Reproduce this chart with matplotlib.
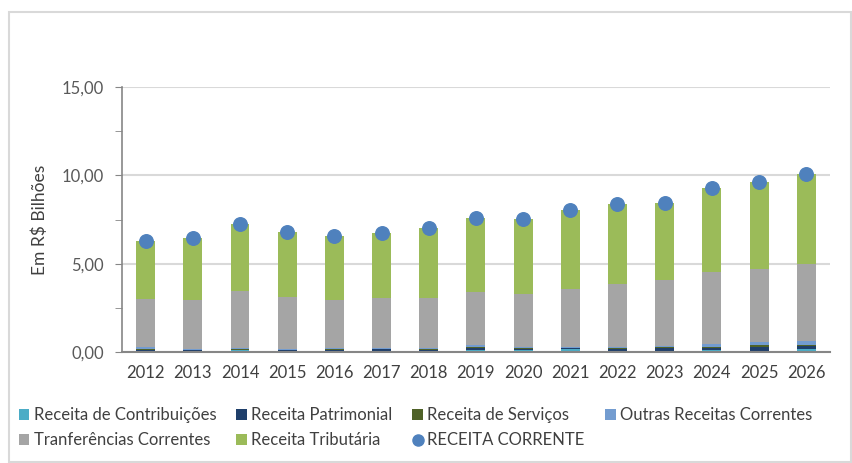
import matplotlib
import matplotlib.pyplot as plt
import numpy as np
from matplotlib.lines import Line2D
from matplotlib.patches import Rectangle

matplotlib.rcParams["font.family"] = ["Lato", "DejaVu Sans"]

anos = ["2012", "2013", "2014", "2015", "2016", "2017", "2018", "2019",
        "2020", "2021", "2022", "2023", "2024", "2025", "2026"]

# valores em R$ bilhões
contribuicoes = [0.05, 0.05, 0.10, 0.04, 0.03, 0.02, 0.03, 0.10,
                 0.12, 0.15, 0.04, 0.03, 0.10, 0.05, 0.15]
patrimonial = [0.05, 0.05, 0.02, 0.06, 0.10, 0.14, 0.10, 0.10,
               0.04, 0.06, 0.14, 0.20, 0.14, 0.25, 0.20]
servicos = [0.08, 0.02, 0.06, 0.02, 0.02, 0.02, 0.02, 0.08,
            0.06, 0.02, 0.03, 0.05, 0.06, 0.10, 0.05]
outras = [0.12, 0.07, 0.05, 0.07, 0.08, 0.05, 0.07, 0.10,
          0.05, 0.08, 0.08, 0.04, 0.15, 0.18, 0.20]
transferencias = [2.70, 2.77, 3.22, 2.94, 2.73, 2.84, 2.85, 2.99,
                  3.04, 3.26, 3.56, 3.74, 4.10, 4.12, 4.38]
tributaria = [3.27, 3.47, 3.80, 3.69, 3.63, 3.64, 3.95, 4.20,
              4.22, 4.44, 4.50, 4.38, 4.75, 4.92, 5.08]
receita_corrente = [6.27, 6.43, 7.25, 6.82, 6.59, 6.71, 7.02, 7.57,
                    7.53, 8.01, 8.35, 8.44, 9.30, 9.62, 10.06]

series = [
    ("Receita de Contribuições", contribuicoes, "#4bacc6"),
    ("Receita Patrimonial", patrimonial, "#1f3f6b"),
    ("Receita de Serviços", servicos, "#4f6228"),
    ("Outras Receitas Correntes", outras, "#739cd0"),
    ("Tranferências Correntes", transferencias, "#a5a5a5"),
    ("Receita Tributária", tributaria, "#9bbb59"),
]

fig = plt.figure(figsize=(8.52, 4.63), dpi=100)
ax = fig.add_axes([0.1432, 0.2397, 0.8308, 0.5724])

# moldura do grafico
fig.patches.append(Rectangle((9 / 852, 0.002), 842 / 852, 1 - 12 / 463 - 0.002,
                             transform=fig.transFigure, fill=False,
                             edgecolor="#d9d9d9", linewidth=1.5))

x = np.arange(len(anos))
base = np.zeros(len(anos))
handles = {}
for nome, vals, cor in series:
    b = ax.bar(x, vals, width=0.4, bottom=base, color=cor, label=nome, zorder=2)
    handles[nome] = b
    base += np.array(vals)

ax.scatter(x, receita_corrente, s=95, color="#4f81bd", zorder=3)
handles["RECEITA CORRENTE"] = Line2D([], [], marker="o", linestyle="none",
                                     color="#4f81bd", markersize=8)

ax.set_xlim(-0.5, len(anos) - 0.5)
ax.set_ylim(0, 15)
ax.set_xticks(x)
ax.set_xticklabels(anos)
ax.set_yticks([0, 5, 10, 15])
ax.set_yticklabels(["0,00", "5,00", "10,00", "15,00"])
ax.set_yticks([2.5, 7.5, 12.5], minor=True)
ax.tick_params(axis="x", length=0, labelsize=12, labelcolor="#404040", pad=9)
ax.tick_params(axis="y", which="both", length=5, color="#868686",
               labelsize=12, labelcolor="#595959", pad=8)
ax.yaxis.grid(True, color="#d9d9d9", linewidth=1.5, zorder=0)
ax.set_axisbelow(True)
for s in ["top", "right"]:
    ax.spines[s].set_visible(False)
ax.spines["left"].set_color("#868686")
ax.spines["bottom"].set_color("#868686")
ax.spines["left"].set_linewidth(1.2)
ax.spines["bottom"].set_linewidth(1.5)
ax.set_ylabel("Em R$ Bilhões", fontsize=12.5, color="#404040", labelpad=10)

ordem = ["Receita de Contribuições", "Tranferências Correntes",
         "Receita Patrimonial", "Receita Tributária",
         "Receita de Serviços", "RECEITA CORRENTE",
         "Outras Receitas Correntes"]
leg = fig.legend([handles[n] for n in ordem], ordem, ncol=4,
                 loc="upper left", bbox_to_anchor=(0.014, 0.135),
                 frameon=False, fontsize=12, handlelength=0.65,
                 handleheight=0.65, handletextpad=0.25, columnspacing=1.2,
                 labelspacing=0.55, borderaxespad=0)
for t in leg.get_texts():
    t.set_color("#404040")

fig.savefig("out.png", dpi=100)
